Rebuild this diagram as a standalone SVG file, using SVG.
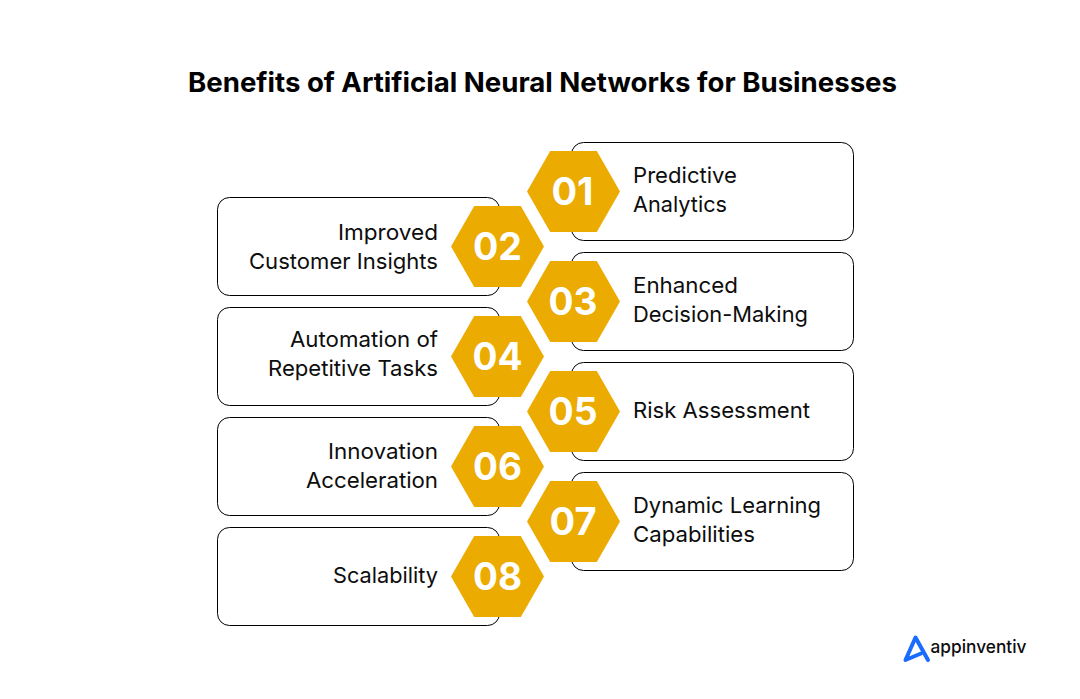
<svg xmlns="http://www.w3.org/2000/svg" width="1080" height="699" viewBox="0 0 1080 699">
<defs>
<style>
.bg{fill:#fff}
.box{fill:#fff;stroke:#000;stroke-width:1}
.hex{fill:#ebab00}
.t{font-family:"Inter","Liberation Sans",sans-serif;font-size:22px;fill:#0d0d0d}
.r{text-anchor:end}
.n{font-family:"Inter","Liberation Sans",sans-serif;font-size:38px;font-weight:700;fill:#fff;text-anchor:middle}
.title{font-family:"Inter","Liberation Sans",sans-serif;font-size:27px;font-weight:700;fill:#000;text-anchor:middle}
</style>
<polygon id="h" class="hex" points="-46.5,0 -23.3,-40.5 23.3,-40.5 46.5,0 23.3,40.5 -23.3,40.5"/>
</defs>
<rect class="bg" width="1080" height="699"/>
<text class="title" x="542.5" y="92" textLength="709" lengthAdjust="spacingAndGlyphs">Benefits of Artificial Neural Networks for Businesses</text>
<g id="connectors"/>
<g id="node-01"><rect class="box" x="571.5" y="142.5" width="282" height="98" rx="12"/><use href="#h" x="573.5" y="191.5"/><text class="n" x="572.500" y="205" textLength="42" lengthAdjust="spacingAndGlyphs">01</text><text class="t" x="633" y="183" textLength="104" lengthAdjust="spacingAndGlyphs">Predictive</text><text class="t" x="633" y="212" textLength="94" lengthAdjust="spacingAndGlyphs">Analytics</text></g>
<g id="node-02"><rect class="box" x="217.5" y="197.5" width="282" height="98" rx="12"/><use href="#h" x="497.5" y="246.5"/><text class="n" x="497.5" y="260" textLength="49" lengthAdjust="spacingAndGlyphs">02</text><text class="t r" x="438" y="240" textLength="100" lengthAdjust="spacingAndGlyphs">Improved</text><text class="t r" x="438" y="269" textLength="189" lengthAdjust="spacingAndGlyphs">Customer Insights</text></g>
<g id="node-03"><rect class="box" x="571.5" y="252.5" width="282" height="98" rx="12"/><use href="#h" x="573.5" y="301.5"/><text class="n" x="573" y="315" textLength="49" lengthAdjust="spacingAndGlyphs">03</text><text class="t" x="633" y="293" textLength="105" lengthAdjust="spacingAndGlyphs">Enhanced</text><text class="t" x="633" y="322" textLength="175" lengthAdjust="spacingAndGlyphs">Decision-Making</text></g>
<g id="node-04"><rect class="box" x="217.5" y="307.5" width="282" height="98" rx="12"/><use href="#h" x="497.5" y="356.5"/><text class="n" x="497.5" y="370" textLength="50" lengthAdjust="spacingAndGlyphs">04</text><text class="t r" x="438" y="347" textLength="148" lengthAdjust="spacingAndGlyphs">Automation of</text><text class="t r" x="438" y="376" textLength="170" lengthAdjust="spacingAndGlyphs">Repetitive Tasks</text></g>
<g id="node-05"><rect class="box" x="571.5" y="362.5" width="282" height="98" rx="12"/><use href="#h" x="573.5" y="411.5"/><text class="n" x="573" y="425" textLength="49" lengthAdjust="spacingAndGlyphs">05</text><text class="t" x="633" y="418" textLength="177" lengthAdjust="spacingAndGlyphs">Risk Assessment</text></g>
<g id="node-06"><rect class="box" x="217.5" y="417.5" width="282" height="98" rx="12"/><use href="#h" x="497.5" y="466.5"/><text class="n" x="497.5" y="480" textLength="49" lengthAdjust="spacingAndGlyphs">06</text><text class="t r" x="438" y="459" textLength="110" lengthAdjust="spacingAndGlyphs">Innovation</text><text class="t r" x="438" y="488" textLength="132" lengthAdjust="spacingAndGlyphs">Acceleration</text></g>
<g id="node-07"><rect class="box" x="571.5" y="472.5" width="282" height="98" rx="12"/><use href="#h" x="573.5" y="521.5"/><text class="n" x="573" y="535" textLength="47" lengthAdjust="spacingAndGlyphs">07</text><text class="t" x="633" y="513" textLength="188" lengthAdjust="spacingAndGlyphs">Dynamic Learning</text><text class="t" x="633" y="542" textLength="122" lengthAdjust="spacingAndGlyphs">Capabilities</text></g>
<g id="node-08"><rect class="box" x="217.5" y="527.5" width="282" height="98" rx="12"/><use href="#h" x="497.5" y="576.5"/><text class="n" x="497.5" y="590" textLength="49" lengthAdjust="spacingAndGlyphs">08</text><text class="t r" x="438" y="583" textLength="105" lengthAdjust="spacingAndGlyphs">Scalability</text></g>
<g id="logo"><path d="M921 653.500 L905.500 660 L915.500 637.500 L928 660" fill="none" stroke="#1a6cff" stroke-width="4" stroke-linejoin="round" stroke-linecap="round"/><text x="930.500" y="653" font-family="Inter,'Liberation Sans',sans-serif" font-size="18" font-weight="500" fill="#0d0d0d" textLength="96" lengthAdjust="spacingAndGlyphs">appinventiv</text></g>
</svg>
